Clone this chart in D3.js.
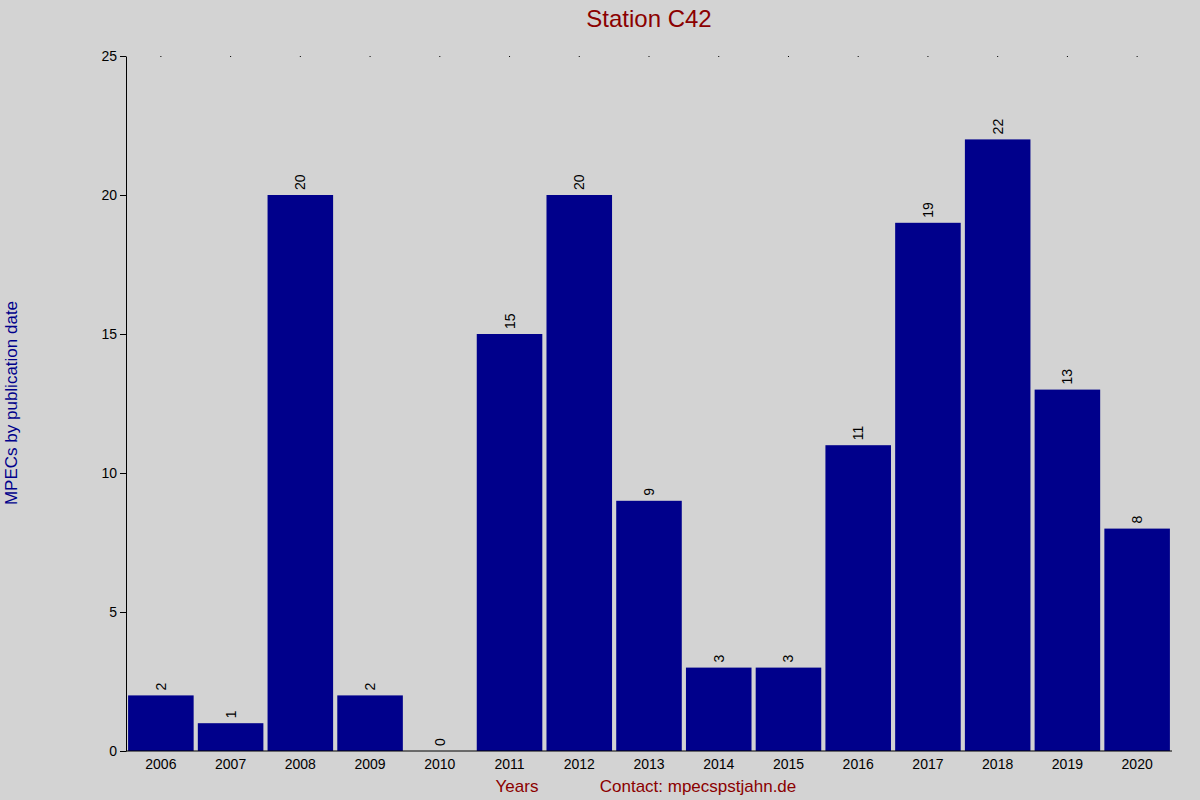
<!DOCTYPE html>
<html><head><meta charset="utf-8">
<script src="https://cdn.jsdelivr.net/npm/d3@7"></script>
<style>body{margin:0;background:#d3d3d3}</style></head>
<body><svg id="c" width="1200" height="800"></svg>
<script>
const years=["2006","2007","2008","2009","2010","2011","2012","2013","2014","2015","2016","2017","2018","2019","2020"];
const counts=[2,1,20,2,0,15,20,9,3,3,11,19,22,13,8];
const yTicks=[0,5,10,15,20,25];
const svg=d3.select("#c");
svg.append("rect").attr("width",1200).attr("height",800).attr("fill","#d3d3d3");
const L=126,R=1172,T=56,B=751;
const x=d3.scaleBand().domain(years).range([L,R]).paddingInner(0.06).paddingOuter(0.03);
const y=d3.scaleLinear().domain([0,25]).range([B,T]);
svg.selectAll(".bar").data(years).join("rect").attr("fill","#00008b")
 .attr("x",d=>x(d)).attr("width",x.bandwidth())
 .attr("y",(d,i)=>y(counts[i])).attr("height",(d,i)=>B-y(counts[i]));
const font="Liberation Sans, Arial, sans-serif";
svg.selectAll(".vl").data(years).join("text")
 .attr("transform",(d,i)=>`translate(${x(d)+x.bandwidth()/2+5},${y(counts[i])-5}) rotate(-90)`)
 .attr("font-family",font).attr("font-size",14).attr("fill","#000").text((d,i)=>counts[i]);
const ya=svg.append("g").attr("transform",`translate(${L},0)`).call(d3.axisLeft(y).tickValues(yTicks).tickSize(6).tickSizeOuter(0));
ya.selectAll("text").attr("font-family",font).attr("font-size",14).attr("fill","#000");
const xa=svg.append("g").attr("transform",`translate(0,${B})`).call(d3.axisBottom(x).tickSize(0).tickPadding(8));
xa.select(".domain").attr("d",`M${L},0H${R}`);
xa.selectAll("text").attr("font-family",font).attr("font-size",14).attr("fill","#000");
svg.selectAll(".dot").data(years).join("rect").attr("x",d=>x(d)+x.bandwidth()/2-0.5).attr("y",T).attr("width",1).attr("height",1).attr("fill","#000");
svg.append("text").attr("x",649).attr("y",27).attr("text-anchor","middle").attr("font-family",font).attr("font-size",24).attr("fill","#8b0000").text("Station C42");
svg.append("text").attr("transform","translate(17,403) rotate(-90)").attr("text-anchor","middle").attr("font-family",font).attr("font-size",17).attr("fill","#00008b").text("MPECs by publication date");
svg.append("text").attr("x",517).attr("y",792).attr("text-anchor","middle").attr("font-family",font).attr("font-size",17).attr("fill","#8b0000").text("Years");
svg.append("text").attr("x",698).attr("y",792).attr("text-anchor","middle").attr("font-family",font).attr("font-size",17).attr("fill","#8b0000").text("Contact: mpecspstjahn.de");
</script></body></html>
